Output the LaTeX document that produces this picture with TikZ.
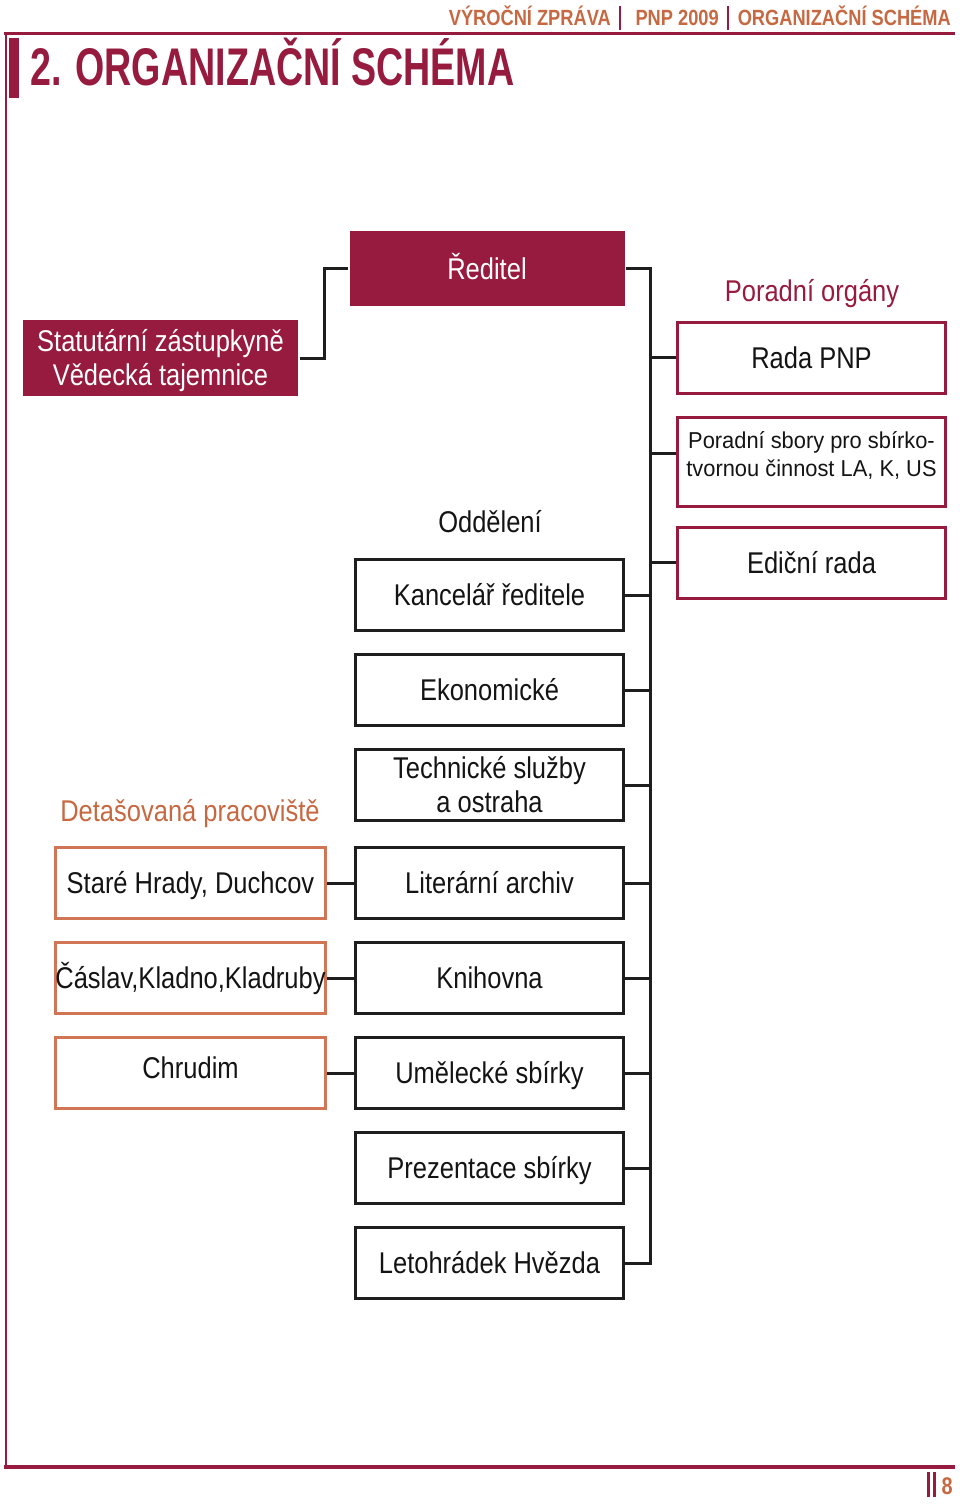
\documentclass[tikz,border=0pt]{standalone}
\usepackage{fontspec}
\setmainfont{Liberation Sans}
\newfontfamily\cf{Liberation Sans}[FakeStretch=0.85]
\newfontfamily\cfs{Liberation Sans}[FakeStretch=0.95]
\newfontfamily\hf{Liberation Sans}[FakeStretch=0.83]
\newfontfamily\tf{Liberation Sans}[FakeStretch=0.71]
\definecolor{crimson}{RGB}{150,27,62}
\definecolor{orng}{RGB}{198,104,66}
\definecolor{orngbox}{RGB}{208,118,84}
\definecolor{linec}{RGB}{30,30,30}
\definecolor{textc}{RGB}{20,20,20}
\begin{document}
\begin{tikzpicture}[x=1pt,y=-1pt,
  box/.style={draw, line width=3pt, minimum width=268pt, minimum height=71pt, inner sep=0pt,
    text height=21.5pt, text depth=0pt, font=\cf\fontsize{30}{34}\selectfont, align=center, text=textc},
  twoline/.style={text height=55.5pt},
  dept/.style={box, draw=linec},
  adv/.style={box, draw=crimson},
  det/.style={box, draw=orngbox, minimum width=270pt},
  headbox/.style={box, draw=none, fill=crimson, text=white, minimum width=275pt, minimum height=75pt},
  lbl/.style={inner sep=0pt, text height=21.5pt, text depth=0pt, font=\cf\fontsize{30}{34}\selectfont},
  conn/.style={draw=linec, line width=3pt},
  hdr/.style={inner sep=0pt, anchor=base east, text=orng, font=\hf\bfseries\fontsize{22}{22}\selectfont},
  rul/.style={draw=crimson},
]
\useasboundingbox (0,0) rectangle (960,1506);

% page frame
\draw[rul, line width=3pt] (4,33.5) -- (955,33.5);
\draw[rul, line width=2pt] (6,35) -- (6,1466);
\draw[rul, line width=4pt] (4,1467) -- (955,1467);
\fill[crimson] (9,38) rectangle (19,98);

% header
\node[hdr] (h3) at (951,26) {ORGANIZAČNÍ SCHÉMA};
\node[hdr] (h2) at (719,26) {PNP 2009};
\node[hdr] (h1) at (611,26) {VÝROČNÍ ZPRÁVA};
\draw[rul, line width=2pt] (620,6) -- (620,30);
\draw[rul, line width=2pt] (728,6) -- (728,30);

% title
\node[inner sep=0pt, anchor=base west, text=crimson, font=\tf\bfseries\fontsize{53}{53}\selectfont] (title) at (30,86) {2. ORGANIZAČNÍ SCHÉMA};

% page number
\draw[rul, line width=3pt] (928,1472) -- (928,1497);
\draw[rul, line width=3pt] (934,1472) -- (934,1497);
\node[hdr, font=\hf\bfseries\fontsize{24}{24}\selectfont] (pg) at (953,1494) {8};

% top level
\node[headbox] (red) at (487,268.5) {Ředitel};
\node[headbox, twoline, minimum height=76pt] (stat) at (160.5,358) {Statutární zástupkyně\\Vědecká tajemnice};

% advisory
\node[lbl, text=crimson] (po) at (812,291) {Poradní orgány};
\node[adv] (rada) at (811.5,357.5) {Rada PNP};
\node[adv, minimum height=89pt, font=\cfs\fontsize{23}{28}\selectfont, text height=44.5pt, text depth=16pt] (sbory) at (811.5,462) {Poradní sbory pro sbírko-\\tvornou činnost LA, K, US};
\node[adv] (edi) at (811.5,562.5) {Ediční rada};

% departments
\node[lbl, text=textc] (odd) at (490,522) {Oddělení};
\node[dept] (kanc) at (489.5,595) {Kancelář ředitele};
\node[dept] (eko) at (489.5,690) {Ekonomické};
\node[dept, twoline] (tech) at (489.5,785) {Technické služby\\a ostraha};
\node[dept] (lit) at (489.5,883) {Literární archiv};
\node[dept] (kni) at (489.5,978) {Knihovna};
\node[dept] (umel) at (489.5,1073) {Umělecké sbírky};
\node[dept] (prez) at (489.5,1168) {Prezentace sbírky};
\node[dept] (leto) at (489.5,1263) {Letohrádek Hvězda};

% detached
\node[lbl, text=orng] (detl) at (190,811) {Detašovaná pracoviště};
\node[det] (d1) at (190.5,883) {Staré Hrady, Duchcov};
\node[det] (d2) at (190.5,978) {Čáslav,Kladno,Kladruby};
\node[det, text depth=10pt] (d3) at (190.5,1073) {Chrudim};

% connectors
\coordinate (tr) at (650,0);
\coordinate (sbc) at (650,453);
\draw[conn] (stat.east) -- ++(25,0) |- (red.west);
\draw[conn] (red.east) -- (red.east -| tr) -- (tr |- leto.east) -- (leto.east);
\draw[conn] (tr |- rada.west) -- (rada.west);
\draw[conn] (sbc) -- (sbc -| sbory.west);
\draw[conn] (tr |- edi.west) -- (edi.west);
\foreach \n in {kanc,eko,tech,lit,kni,umel,prez}{
  \draw[conn] (\n.east) -- (\n.east -| tr);
}
\draw[conn] (d1.east) -- (lit.west);
\draw[conn] (d2.east) -- (kni.west);
\draw[conn] (d3.east) -- (umel.west);
\end{tikzpicture}
\end{document}
